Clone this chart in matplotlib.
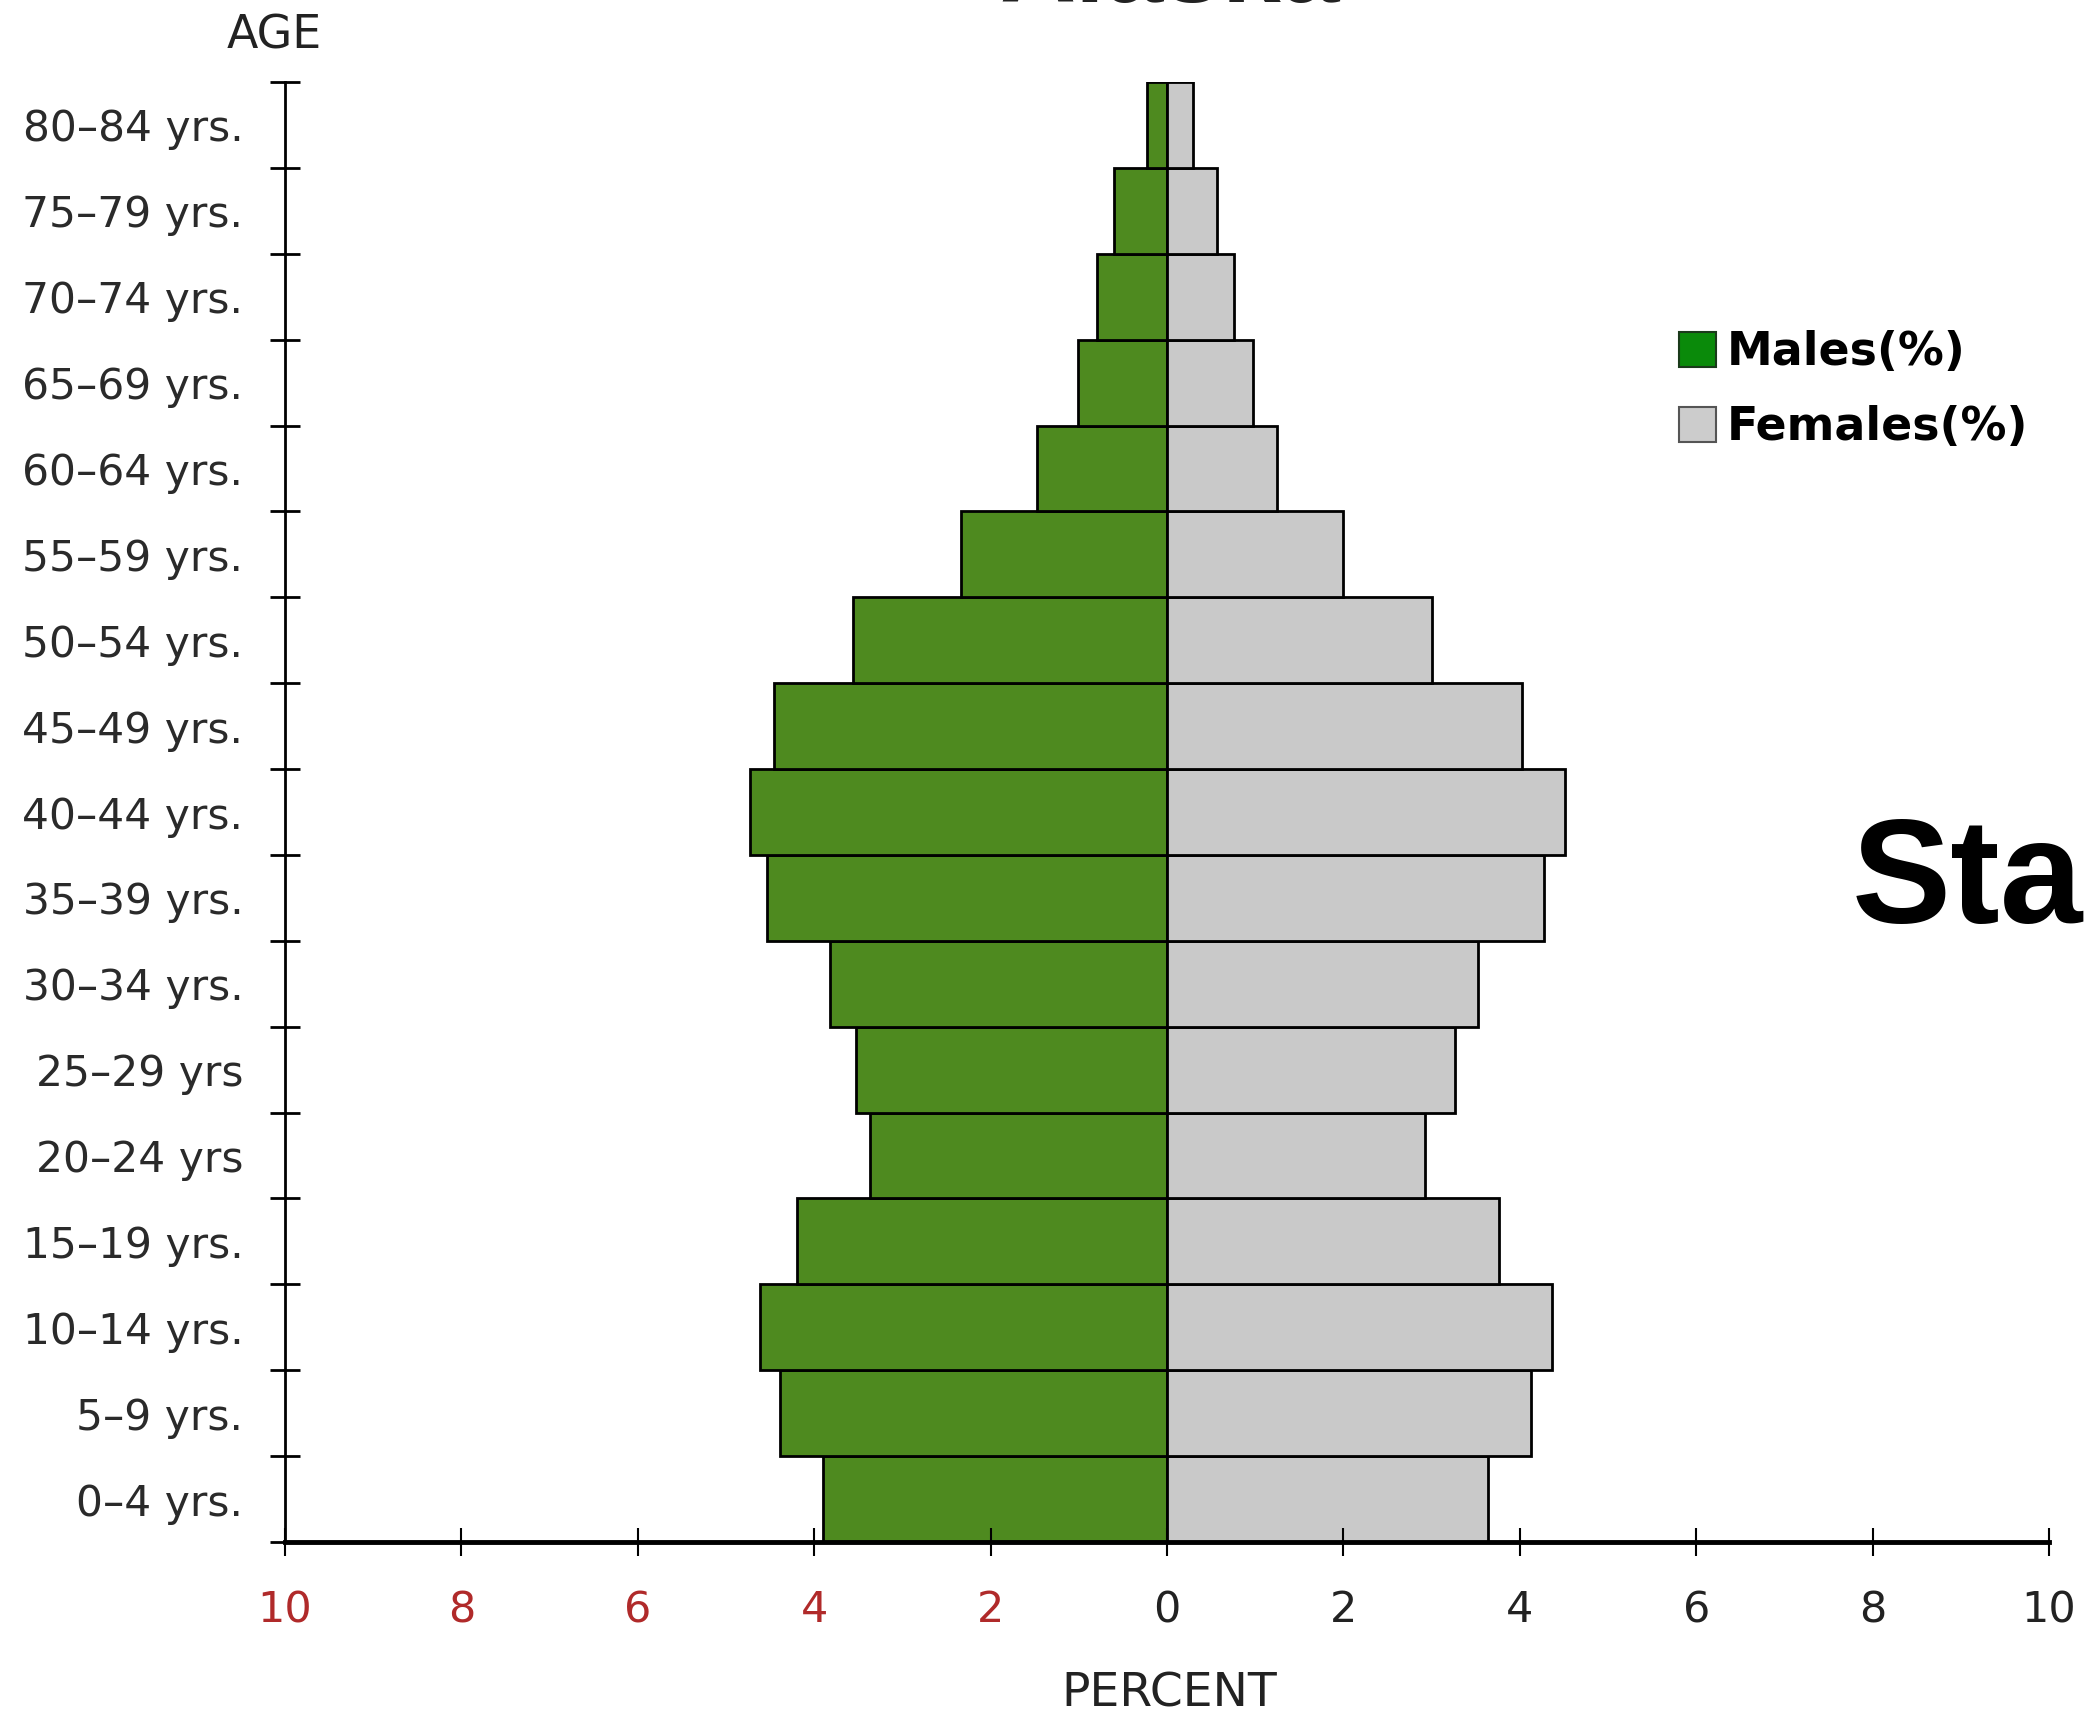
import matplotlib
matplotlib.use('Agg')
import matplotlib.pyplot as plt
from matplotlib.patches import Patch

# age groups, bottom to top
age_labels = ['0–4 yrs.', '5–9 yrs.', '10–14 yrs.', '15–19 yrs.', '20–24 yrs',
              '25–29 yrs', '30–34 yrs.', '35–39 yrs.', '40–44 yrs.', '45–49 yrs.',
              '50–54 yrs.', '55–59 yrs.', '60–64 yrs.', '65–69 yrs.', '70–74 yrs.',
              '75–79 yrs.', '80–84 yrs.']
males = [3.90, 4.39, 4.61, 4.20, 3.37, 3.53, 3.82, 4.54, 4.73, 4.46,
         3.56, 2.33, 1.47, 1.01, 0.79, 0.60, 0.23]
females = [3.64, 4.13, 4.37, 3.76, 2.93, 3.27, 3.53, 4.28, 4.51, 4.02,
           3.01, 2.00, 1.25, 0.98, 0.76, 0.57, 0.30]
x_ticks = [-10, -8, -6, -4, -2, 0, 2, 4, 6, 8, 10]

plt.rcParams['font.family'] = ['DejaVu Sans']

fig = plt.figure(figsize=(20.97, 17.17), dpi=100)
ax = fig.add_axes([285/2097, 1 - 1542/1717, (2049-285)/2097, (1542-82)/1717])

pos = list(range(len(age_labels)))
ax.barh(pos, [-m for m in males], height=1.0, color='#4e8a1f',
        edgecolor='black', linewidth=2.0)
ax.barh(pos, females, height=1.0, color='#c9c9c9',
        edgecolor='black', linewidth=2.0)

ax.set_xlim(-10, 10)
ax.set_ylim(-0.5, len(age_labels) - 0.5)

for s in ['top', 'right']:
    ax.spines[s].set_visible(False)
ax.spines['left'].set_linewidth(2)
ax.spines['bottom'].set_linewidth(3.5)

# x ticks: absolute values, red on the male side
ax.set_xticks(x_ticks)
ax.set_xticklabels([str(abs(t)) for t in x_ticks], fontsize=31)
for t, lab in zip(x_ticks, ax.get_xticklabels()):
    lab.set_color('#b02a2a' if t < 0 else '#222222')
ax.tick_params(axis='x', direction='inout', length=20, width=1.5, pad=24)

# y ticks at the group boundaries, labels in between
ax.set_yticks([p - 0.5 for p in pos] + [len(pos) - 0.5])
ax.set_yticklabels([])
ax.set_yticks(pos, minor=True)
ax.set_yticklabels(age_labels, minor=True, fontsize=30.5, color='#2a2a2a')
ax.tick_params(axis='y', which='major', direction='inout', length=21, width=2)
ax.tick_params(axis='y', which='minor', length=0, pad=30)

fig.text(274/2097, 1 - 36/1717, 'AGE', fontsize=33, color='#222222',
         ha='center', va='center')
fig.text(1169/2097, 1 - 1694/1717, 'PERCENT', fontsize=34, color='#222222',
         ha='center', va='center')

# title, mostly cut off by the top edge
fig.text(1170/2097, 1 - 2/1717, 'Alaska', fontsize=76, fontweight='bold',
         family='Liberation Sans', color='#222222', ha='center', va='baseline')

handles = [Patch(facecolor='#0a8a0a', edgecolor='#1a3a1a', linewidth=1.5),
           Patch(facecolor='#cccccc', edgecolor='#555555', linewidth=1.5)]
fig.legend(handles, ['Males(%)', 'Females(%)'], loc='upper left',
           bbox_to_anchor=(1679/2097, 1 - 330/1717), frameon=False,
           prop={'weight': 'bold', 'size': 33}, handlelength=0.8,
           handleheight=0.8, handletextpad=0.25, labelspacing=0.66,
           borderpad=0, borderaxespad=0)

fig.text(1852/2097, 1 - 923/1717, 'Sta', fontsize=107, fontweight='bold',
         family='Liberation Sans', color='black', ha='left', va='baseline')

fig.savefig('out.png', dpi=100)
